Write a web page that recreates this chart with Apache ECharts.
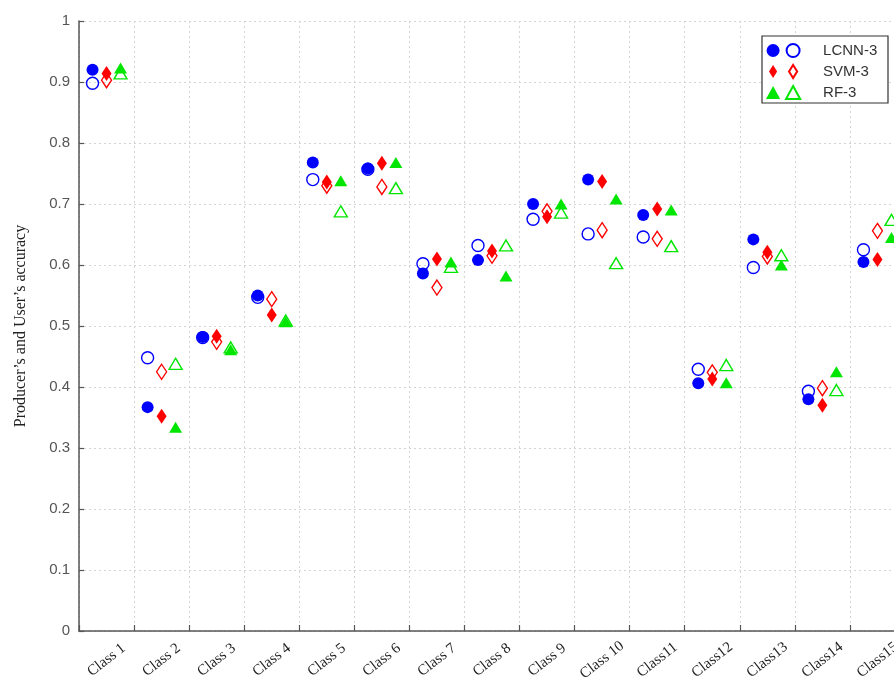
<!DOCTYPE html>
<html>
<head>
<meta charset="utf-8">
<script src="https://cdn.jsdelivr.net/npm/echarts@6/dist/echarts.min.js"></script>
<style>
  html, body { margin: 0; padding: 0; background: #fff; }
  #chart { width: 894px; height: 677px; }
</style>
</head>
<body>
<div id="chart"></div>
<script>
// Class labels along the x axis
const classes = ['Class 1', 'Class 2', 'Class 3', 'Class 4', 'Class 5', 'Class 6', 'Class 7',
  'Class 8', 'Class 9', 'Class 10', 'Class11', 'Class12', 'Class13', 'Class14', 'Class15'];

// Accuracy per class (filled = producer's, open = user's)
const lcnnProducer = [0.920, 0.367, 0.482, 0.550, 0.768, 0.758, 0.586, 0.608, 0.700, 0.740, 0.682, 0.406, 0.642, 0.380, 0.605];
const lcnnUser     = [0.898, 0.448, 0.481, 0.547, 0.740, 0.757, 0.602, 0.632, 0.675, 0.651, 0.646, 0.429, 0.596, 0.393, 0.625];
const svmProducer  = [0.914, 0.352, 0.483, 0.518, 0.736, 0.767, 0.610, 0.623, 0.679, 0.737, 0.692, 0.413, 0.621, 0.370, 0.609];
const svmUser      = [0.903, 0.425, 0.474, 0.544, 0.730, 0.728, 0.563, 0.615, 0.688, 0.657, 0.643, 0.424, 0.614, 0.398, 0.656];
const rfProducer   = [0.923, 0.334, 0.461, 0.507, 0.738, 0.768, 0.605, 0.582, 0.700, 0.708, 0.690, 0.407, 0.600, 0.425, 0.645];
const rfUser       = [0.914, 0.438, 0.465, 0.509, 0.688, 0.726, 0.597, 0.632, 0.686, 0.603, 0.631, 0.436, 0.616, 0.395, 0.674];

const BLUE = '#0000ff', RED = '#ff0000', GREEN = '#00e600';
const DIAMOND = 'path://M5,0 L10,8 L5,16 L0,8 Z';
const TRIANGLE = 'path://M6,0 L12,11 L0,11 Z';

function filled(name, data, symbol, size, color, dx) {
  return {
    name: name, type: 'scatter', data: data,
    symbol: symbol, symbolSize: size, symbolOffset: [dx, 0],
    itemStyle: { color: color, opacity: 1 },
    emphasis: { disabled: true }, z: 3
  };
}
function open(name, data, symbol, size, color, dx) {
  return {
    name: name, type: 'scatter', data: data,
    symbol: symbol, symbolSize: size, symbolOffset: [dx, 0],
    itemStyle: { color: 'rgba(255,255,255,0)', borderColor: color, borderWidth: 1.4, opacity: 1 },
    emphasis: { disabled: true }, z: 2
  };
}

const series = [
  open('LCNN-3 UA', lcnnUser, 'circle', 12, BLUE, -14),
  open('SVM-3 UA', svmUser, 'diamond', [10, 15], RED, 0),
  open('RF-3 UA', rfUser, 'triangle', [13, 11], GREEN, 14),
  filled('LCNN-3 PA', lcnnProducer, 'circle', 12, BLUE, -14),
  filled('SVM-3 PA', svmProducer, 'diamond', [10, 15], RED, 0),
  filled('RF-3 PA', rfProducer, 'triangle', [13, 11], GREEN, 14)
];

const legendBase = {
  orient: 'vertical',
  align: 'left',
  top: 43,
  padding: 0,
  itemWidth: 50,
  itemHeight: 13,
  itemGap: 6,
  selectedMode: false,
  formatter: function (n) { return n.split(' ')[0]; },
  textStyle: { fontFamily: 'Liberation Sans, Arial, sans-serif', fontSize: 15, lineHeight: 13 }
};

const chart = echarts.init(document.getElementById('chart'), null, { renderer: 'canvas' });
chart.setOption({
  animation: false,
  backgroundColor: '#fff',
  grid: { left: 79, top: 21, width: 826, height: 610, containLabel: false, outerBoundsMode: 'none' },
  xAxis: {
    type: 'category',
    data: classes,
    boundaryGap: true,
    axisLine: { lineStyle: { color: '#555', width: 1.5 } },
    axisTick: { show: true, inside: true, length: 6, lineStyle: { color: '#555', width: 1.2 } },
    axisLabel: {
      interval: 0, rotate: 38, margin: 29,
      align: 'center', verticalAlign: 'middle',
      fontFamily: 'Liberation Serif, Times New Roman, serif', fontSize: 15, color: '#222'
    },
    splitLine: { show: true, lineStyle: { color: '#d4d4d4', type: [2, 3], width: 1 } }
  },
  yAxis: {
    type: 'value',
    min: 0, max: 1, interval: 0.1,
    name: 'Producer\u2019s and User\u2019s accuracy',
    nameLocation: 'middle',
    nameGap: 50,
    nameTextStyle: { fontFamily: 'Liberation Serif, Times New Roman, serif', fontSize: 16, color: '#222' },
    axisLine: { show: true, lineStyle: { color: '#555', width: 1.5 } },
    axisTick: { show: true, inside: true, length: 5, lineStyle: { color: '#555', width: 1.2 } },
    axisLabel: {
      margin: 9,
      fontFamily: 'Liberation Sans, Arial, sans-serif', fontSize: 15, color: '#555',
      formatter: function (v) { return (v === 0 || v === 1) ? String(v) : v.toFixed(1); }
    },
    splitLine: { show: true, lineStyle: { color: '#d4d4d4', type: [2, 3], width: 1 } }
  },
  graphic: [{
    type: 'rect', z: 3,
    shape: { x: 762, y: 36, width: 126, height: 67 },
    style: { fill: '#fff', stroke: '#333', lineWidth: 1.2 }
  }],
  legend: [
    Object.assign({}, legendBase, {
      left: 766,
      data: [
        { name: 'LCNN-3 PA', icon: 'circle' },
        { name: 'SVM-3 PA', icon: DIAMOND },
        { name: 'RF-3 PA', icon: TRIANGLE }
      ],
      textStyle: Object.assign({}, legendBase.textStyle, { color: 'rgba(0,0,0,0)' })
    }),
    Object.assign({}, legendBase, {
      left: 785,
      data: [
        { name: 'LCNN-3 UA', icon: 'circle' },
        { name: 'SVM-3 UA', icon: DIAMOND },
        { name: 'RF-3 UA', icon: TRIANGLE }
      ],
      textStyle: Object.assign({}, legendBase.textStyle, { color: '#333' })
    })
  ],
  series: series
});
</script>
</body>
</html>
